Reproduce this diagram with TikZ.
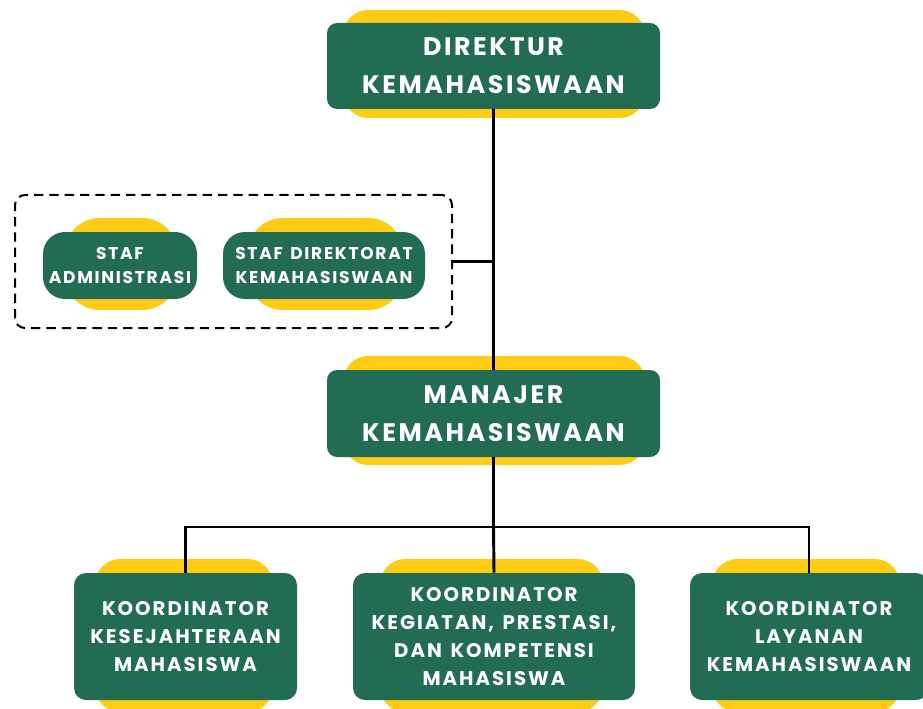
\documentclass[tikz,border=0pt]{standalone}
\usepackage{fontspec}
\newfontfamily\popfont[LetterSpace=10,WordSpace=1.4]{Poppins}
\definecolor{dgreen}{HTML}{226D52}
\definecolor{ygold}{HTML}{FFCB14}
\begin{document}
\begin{tikzpicture}[x=0.75pt,y=-0.75pt,
 gbox/.style={fill=dgreen, rounded corners=7.5pt, inner sep=0pt, text=white, align=center},
 ybox/.style={fill=ygold, inner sep=0pt, rounded corners=19pt},
 bigtxt/.style={font=\popfont\bfseries\fontsize{19}{28.5}\selectfont},
 midtxt/.style={font=\popfont\bfseries\fontsize{14.8}{21}\selectfont},
 smltxt/.style={font=\popfont\bfseries\fontsize{12.8}{17.5}\selectfont},
 conn/.style={line width=2.2pt, black}]
\useasboundingbox (0,0) rectangle (923,709);
% yellow backs
\node[ybox, minimum width=302*0.75pt, minimum height=108*0.75pt] (ydir) at (494,64) {};
\node[ybox, minimum width=302*0.75pt, minimum height=109*0.75pt] (yman) at (494,410.5) {};
\node[ybox, rounded corners=26pt, minimum width=112*0.75pt, minimum height=92*0.75pt] (yadm) at (121,264) {};
\node[ybox, rounded corners=26pt, minimum width=155*0.75pt, minimum height=92*0.75pt] (ysd) at (325.5,264) {};
\node[ybox, minimum width=178*0.75pt, minimum height=153*0.75pt] (yk1) at (184,635.5) {};
\node[ybox, minimum width=223*0.75pt, minimum height=153*0.75pt] (yk2) at (491.5,635.5) {};
\node[ybox, minimum width=188*0.75pt, minimum height=153*0.75pt] (yk3) at (806,635.5) {};
% dashed group
\node[draw, dashed, dash pattern=on 7pt off 4.5pt, line width=1.5pt, rounded corners=7.5pt, inner sep=0pt,
  minimum width=437*0.75pt, minimum height=133*0.75pt] (grp) at (233.5,261.5) {};
% green boxes
\node[gbox, bigtxt, minimum width=333*0.75pt, minimum height=86*0.75pt] (dir) at (493.5,66) {DIREKTUR\\KEMAHASISWAAN};
\node[gbox, bigtxt, minimum width=333*0.75pt, minimum height=87*0.75pt] (man) at (493.5,413.5) {MANAJER\\KEMAHASISWAAN};
\node[gbox, smltxt, rounded corners=16.5pt, minimum width=154*0.75pt, minimum height=67*0.75pt] (adm) at (120,265.5) {STAF\\ADMINISTRASI};
\node[gbox, smltxt, rounded corners=16.5pt, minimum width=202*0.75pt, minimum height=67*0.75pt] (sdk) at (324,265.5) {STAF DIREKTORAT\\KEMAHASISWAAN};
\node[gbox, midtxt, rounded corners=9pt, minimum width=223*0.75pt, minimum height=127*0.75pt] (k1) at (185.5,636.5) {KOORDINATOR\\KESEJAHTERAAN\\MAHASISWA};
\node[gbox, midtxt, rounded corners=9pt, minimum width=282*0.75pt, minimum height=127*0.75pt] (k2) at (494,636.5) {KOORDINATOR\\KEGIATAN, PRESTASI,\\DAN KOMPETENSI\\MAHASISWA};
\node[gbox, midtxt, rounded corners=9pt, minimum width=238*0.75pt, minimum height=127*0.75pt] (k3) at (809,636.5) {KOORDINATOR\\LAYANAN\\KEMAHASISWAAN};
% connectors
\coordinate (bus) at (493.5,527);
\draw[conn] (dir.south) -- (man.north);
\draw[conn] (grp.east) -- (grp.east -| dir.south);
\draw[conn] (man.south) -- (bus);
\draw[conn] (k1.north) |- (bus) -| (k3.north);
\draw[conn] (bus) -- (k2.north);
\end{tikzpicture}
\end{document}
